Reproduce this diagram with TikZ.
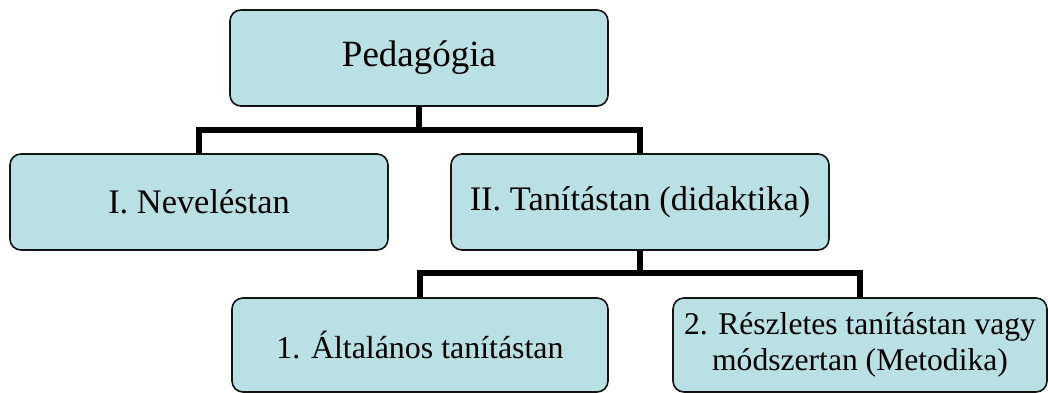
\documentclass[tikz,border=0pt]{standalone}
\usepackage{fontspec}
\setmainfont{Liberation Serif}
\definecolor{boxfill}{RGB}{185,224,228}
\definecolor{boxline}{RGB}{20,20,20}
\begin{document}
\begin{tikzpicture}[x=1pt,y=-1pt,
  box/.style={draw=boxline, line width=1.6pt, fill=boxfill, rounded corners=11pt,
    inner sep=0pt, align=center, text=black},
  conn/.style={draw=black, line width=6pt, line join=miter}]
\useasboundingbox (0,0) rectangle (1048,393);
\node[box, minimum width=378pt, minimum height=96pt, font=\fontsize{37}{42}\selectfont] (top) at (419,58) {Pedagógia};
\node[box, minimum width=378pt, minimum height=96pt, font=\fontsize{34.4}{40}\selectfont] (nev) at (199,202) {I. Neveléstan};
\node[box, minimum width=378pt, minimum height=96pt, font=\fontsize{34.4}{40}\selectfont] (tan) at (640,202) {II. Tanítástan (didaktika)};
\node[box, minimum width=376pt, minimum height=94pt, font=\fontsize{31.9}{37}\selectfont] (alt) at (420,345) {1. Általános tanítástan};
\node[box, minimum width=374pt, minimum height=94pt, font=\fontsize{31.6}{36}\selectfont] (res) at (860,345) {2. Részletes tanítástan vagy\\módszertan (Metodika)};
\coordinate (j1) at (419,130);
\coordinate (j2) at (640,273);
\draw[conn] (top.south) -- (j1);
\draw[conn] (nev.north) |- (j1) -| (tan.north);
\draw[conn] (tan.south) -- (j2);
\draw[conn] (alt.north) |- (j2) -| (res.north);
\end{tikzpicture}
\end{document}
